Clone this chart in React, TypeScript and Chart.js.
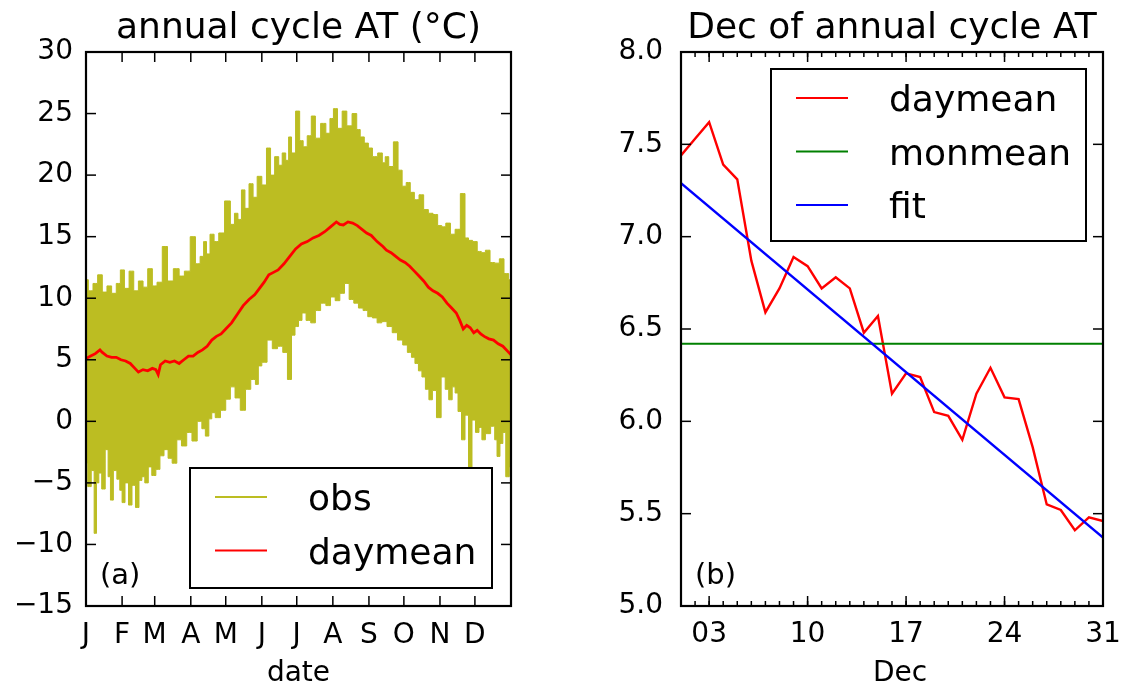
import React, { useEffect, useRef } from 'react';
import { Chart, registerables } from 'chart.js';

Chart.register(...registerables);

const FONT = "'DejaVu Sans', 'Liberation Sans', sans-serif";

// ---------- Panel (a): annual cycle ----------
const monthStartDays = [0, 31, 59, 90, 120, 151, 181, 212, 243, 273, 304, 334];
const monthLabels = ['J', 'F', 'M', 'A', 'M', 'J', 'J', 'A', 'S', 'O', 'N', 'D'];
const tempTicks = [-15, -10, -5, 0, 5, 10, 15, 20, 25, 30];

const obsHighDays = [0, 4, 8, 12, 16, 20, 24, 28, 31, 35, 39, 43, 47, 51, 55, 59, 63, 68, 72, 78, 82, 87, 92, 96, 100, 102, 105, 108, 112, 116, 122, 126, 129, 132, 135, 138, 142, 145, 149, 153, 157, 160, 164, 167, 170, 173, 175, 178, 182, 185, 188, 192, 195, 199, 204, 208, 211, 214, 218, 222, 226, 231, 234, 237, 241, 244, 248, 253, 256, 258, 262, 266, 270, 273, 277, 280, 284, 288, 292, 296, 300, 304, 307, 311, 315, 319, 324, 327, 330, 334, 338, 341, 345, 349, 353, 357, 361, 365];
const obsHigh = [11.5, 10.6, 11.2, 11.9, 10.5, 11.0, 10.4, 11.2, 12.3, 10.8, 12.2, 10.6, 11.4, 10.9, 12.4, 11.0, 11.3, 14.2, 11.4, 12.4, 11.8, 12.2, 15.0, 12.8, 13.4, 14.6, 13.6, 15.2, 14.6, 15.3, 17.9, 16.0, 16.9, 16.4, 18.8, 17.3, 19.3, 18.2, 19.9, 19.2, 22.2, 20.0, 21.5, 20.8, 21.8, 21.2, 23.1, 21.8, 25.2, 22.8, 22.3, 23.2, 24.8, 23.0, 24.2, 23.4, 24.6, 25.4, 23.8, 25.2, 24.0, 25.0, 23.7, 23.1, 22.6, 22.2, 21.5, 21.8, 21.0, 21.5, 20.7, 22.7, 20.4, 19.1, 19.4, 18.6, 18.0, 18.4, 17.2, 16.9, 16.8, 15.9, 15.8, 16.1, 15.2, 15.6, 18.5, 14.9, 14.7, 14.6, 13.8, 13.7, 13.9, 12.9, 12.85, 13.2, 12.0, 11.5];

const obsLowDays = [0, 3, 6, 8, 10, 12, 15, 18, 20, 22, 25, 28, 30, 32, 35, 38, 41, 44, 47, 49, 52, 55, 58, 62, 65, 69, 72, 76, 80, 84, 89, 93, 98, 101, 104, 107, 109, 113, 118, 122, 126, 130, 135, 139, 144, 147, 149, 153, 158, 162, 167, 171, 175, 178, 181, 184, 187, 191, 195, 199, 204, 208, 212, 216, 220, 224, 228, 232, 236, 240, 244, 248, 252, 256, 261, 265, 270, 274, 278, 281, 284, 287, 290, 293, 296, 299, 303, 307, 310, 313, 316, 318, 321, 324, 327, 330, 333, 336, 339, 341, 345, 350, 352, 354, 357, 359, 362, 365];
const obsLow = [-3.4, -5.3, -4.0, -9.1, -5.0, -4.2, -5.5, -2.3, -4.5, -6.4, -4.0, -4.7, -5.6, -6.6, -5.0, -6.8, -5.2, -7.0, -4.8, -4.5, -5.0, -3.7, -4.4, -3.9, -2.8, -2.3, -3.0, -3.4, -1.5, -2.0, -0.9, -1.6, 0.0, -0.6, -1.2, 0.2, 0.7, 0.3, 0.9, 1.8, 2.8, 1.9, 0.9, 2.6, 3.4, 3.0, 4.5, 4.8, 6.6, 5.9, 6.1, 5.6, 3.4, 7.0, 7.7, 8.2, 8.8, 8.2, 8.0, 9.0, 9.6, 9.4, 10.1, 9.8, 10.4, 11.2, 9.9, 9.6, 9.2, 9.0, 8.5, 8.4, 8.0, 8.1, 7.7, 7.2, 6.6, 6.2, 5.6, 5.2, 4.7, 4.1, 3.6, 2.6, 1.75, 2.5, 0.3, 3.6, 2.6, 1.75, 2.8, 2.3, 0.8, -1.5, 0.5, -3.8, 0.1, -0.9, -0.5, -1.5, -1.0, -0.4, -1.5, -2.85, -1.8, -0.9, -4.5, -3.7];

const dayMeanDays = [0, 4, 8, 12, 14, 18, 22, 26, 30, 34, 38, 42, 45, 49, 53, 57, 60, 62, 64, 68, 72, 76, 80, 84, 88, 92, 96, 100, 104, 108, 112, 116, 120, 125, 130, 135, 140, 145, 149, 153, 157, 161, 165, 170, 175, 180, 185, 190, 195, 200, 205, 210, 215, 218, 221, 225, 229, 233, 237, 241, 245, 250, 255, 258, 262, 266, 270, 274, 278, 282, 286, 290, 294, 298, 302, 306, 310, 314, 318, 321, 324, 327, 330, 333, 336, 339, 342, 346, 350, 354, 358, 362, 365];
const dayMean = [5.1, 5.3, 5.5, 5.8, 5.6, 5.3, 5.2, 5.2, 5.0, 4.9, 4.7, 4.3, 4.0, 4.2, 4.1, 4.3, 4.2, 3.8, 4.6, 4.9, 4.8, 4.9, 4.7, 5.0, 5.3, 5.3, 5.6, 5.8, 6.1, 6.6, 6.9, 7.1, 7.5, 8.0, 8.7, 9.4, 9.9, 10.3, 10.8, 11.3, 11.9, 12.1, 12.3, 12.8, 13.4, 14.0, 14.4, 14.6, 14.9, 15.1, 15.4, 15.8, 16.2, 16.0, 15.95, 16.2, 16.1, 15.9, 15.6, 15.3, 15.1, 14.6, 14.2, 13.9, 13.7, 13.4, 13.1, 12.9, 12.6, 12.2, 11.8, 11.4, 10.9, 10.6, 10.4, 10.1, 9.6, 9.2, 8.8, 8.2, 7.5, 7.8, 7.6, 7.2, 7.4, 7.1, 6.9, 6.7, 6.6, 6.3, 6.1, 5.7, 5.4];

// ---------- Panel (b): December ----------
const decDays = [1, 2, 3, 4, 5, 6, 7, 8, 9, 10, 11, 12, 13, 14, 15, 16, 17, 18, 19, 20, 21, 22, 23, 24, 25, 26, 27, 28, 29, 30, 31];
const decDayMean = [7.44, 7.53, 7.62, 7.39, 7.31, 6.87, 6.59, 6.72, 6.89, 6.84, 6.72, 6.78, 6.72, 6.48, 6.57, 6.15, 6.26, 6.24, 6.05, 6.03, 5.90, 6.15, 6.29, 6.13, 6.12, 5.86, 5.55, 5.52, 5.41, 5.48, 5.46];
const monMeanDays = [1, 31];
const monMean = [6.42, 6.42];
const fitDays = [1, 31];
const fitValues = [7.29, 5.37];
const decTickDays = [3, 10, 17, 24, 31];
const decTickLabels = ['03', '10', '17', '24', '31'];
const decValueTicks = [5.0, 5.5, 6.0, 6.5, 7.0, 7.5, 8.0];

const OLIVE = '#bcbd22';
const RED = '#ff0000';
const GREEN = '#008000';
const BLUE = '#0000ff';

const pts = (xs: number[], ys: number[]) => xs.map((x, i) => ({ x, y: ys[i] }));
const fmtMinus = (v: number) => (v < 0 ? '\u2212' + Math.abs(v) : String(v));

type PanelCfg = {
  title: string;
  xLabel: string;
  xLabelShift: number;
  tag: string;
  xMajor: number[];
  xMinor: number[];
  yTicks: number[];
  legend: { left: number; top: number; right: number; bottom: number; items: { label: string; color: string }[] };
};

function framePlugin(cfg: PanelCfg) {
  return {
    id: 'frameDecor',
    afterDraw(chart: any) {
      const { ctx, chartArea: a, scales } = chart;
      const xs = scales.x;
      const ys = scales.y;
      ctx.save();
      ctx.strokeStyle = '#000';
      ctx.lineCap = 'butt';
      const seg = (x1: number, y1: number, x2: number, y2: number) => {
        ctx.beginPath();
        ctx.moveTo(x1, y1);
        ctx.lineTo(x2, y2);
        ctx.stroke();
      };
      ctx.lineWidth = 1.5;
      cfg.yTicks.forEach((v) => {
        const y = ys.getPixelForValue(v);
        seg(a.left, y, a.left + 10, y);
        seg(a.right, y, a.right - 10, y);
      });
      cfg.xMajor.forEach((v) => {
        const x = xs.getPixelForValue(v);
        seg(x, a.bottom, x, a.bottom - 10);
        seg(x, a.top, x, a.top + 10);
      });
      cfg.xMinor.forEach((v) => {
        const x = xs.getPixelForValue(v);
        seg(x, a.bottom, x, a.bottom - 5);
        seg(x, a.top, x, a.top + 5);
      });
      ctx.lineWidth = 2.2;
      ctx.strokeRect(a.left, a.top, a.right - a.left, a.bottom - a.top);

      // title
      ctx.fillStyle = '#000';
      ctx.textBaseline = 'alphabetic';
      ctx.textAlign = 'center';
      ctx.font = `36px ${FONT}`;
      ctx.fillText(cfg.title, (a.left + a.right) / 2, 38);
      // x label
      ctx.font = `28px ${FONT}`;
      ctx.fillText(cfg.xLabel, (a.left + a.right) / 2 + cfg.xLabelShift, 681);
      // panel tag
      ctx.textAlign = 'left';
      ctx.font = `29px ${FONT}`;
      ctx.fillText(cfg.tag, a.left + 14, a.bottom - 22);

      // legend
      const L = cfg.legend;
      const bx = a.left + L.left;
      const by = a.top + L.top;
      const bw = a.right - L.right - bx;
      const bh = a.top + L.bottom - by;
      ctx.fillStyle = '#fff';
      ctx.fillRect(bx, by, bw, bh);
      ctx.lineWidth = 2;
      ctx.strokeStyle = '#000';
      ctx.strokeRect(bx, by, bw, bh);
      ctx.font = `36px ${FONT}`;
      L.items.forEach((it, i) => {
        const ly = by + 29 + i * 53.5;
        ctx.strokeStyle = it.color;
        ctx.lineWidth = 2.2;
        seg(bx + 25, ly, bx + 77, ly);
        ctx.fillStyle = '#000';
        ctx.fillText(it.label, bx + 118, ly + 13);
      });
      ctx.restore();
    },
  };
}

const noOverhang = (s: any) => {
  s.height = 81;
  s.paddingLeft = 0;
  s.paddingRight = 0;
};

function PanelA() {
  const ref = useRef<HTMLCanvasElement>(null);
  useEffect(() => {
    const cfg: PanelCfg = {
      title: 'annual cycle AT (\u00B0C)',
      xLabel: 'date',
      xLabelShift: 0,
      tag: '(a)',
      xMajor: monthStartDays,
      xMinor: [],
      yTicks: tempTicks,
      legend: {
        left: 104,
        top: 416,
        right: 19,
        bottom: 536,
        items: [
          { label: 'obs', color: OLIVE },
          { label: 'daymean', color: RED },
        ],
      },
    };
    const chart = new Chart(ref.current!, {
      type: 'line',
      data: {
        datasets: [
          {
            label: 'obs',
            data: pts(obsHighDays, obsHigh),
            borderColor: OLIVE,
            backgroundColor: OLIVE,
            borderWidth: 1,
            pointRadius: 0,
            stepped: 'middle',
            fill: 1,
            order: 2,
          },
          {
            label: 'obs-low',
            data: pts(obsLowDays, obsLow),
            borderColor: OLIVE,
            backgroundColor: OLIVE,
            borderWidth: 1,
            pointRadius: 0,
            stepped: 'middle',
            fill: false,
            order: 3,
          },
          {
            label: 'daymean',
            data: pts(dayMeanDays, dayMean),
            borderColor: RED,
            borderWidth: 2.8,
            pointRadius: 0,
            fill: false,
            order: 0,
          },
        ],
      },
      options: {
        responsive: false,
        animation: false,
        devicePixelRatio: 1,
        events: [],
        layout: { padding: { top: 52, right: 50, left: 0, bottom: 0 } },
        plugins: { legend: { display: false }, tooltip: { enabled: false }, title: { display: false } },
        scales: {
          x: {
            type: 'linear',
            min: 0,
            max: 365,
            afterBuildTicks: (s: any) => {
              s.ticks = monthStartDays.map((v) => ({ value: v }));
            },
            afterFit: noOverhang,
            grid: { display: false, drawTicks: false },
            border: { display: false },
            ticks: {
              autoSkip: false,
              maxRotation: 0,
              padding: 13,
              color: '#000',
              font: { family: FONT, size: 28 },
              callback: (_v: any, i: number) => monthLabels[i],
            },
          },
          y: {
            type: 'linear',
            min: -15,
            max: 30,
            afterBuildTicks: (s: any) => {
              s.ticks = tempTicks.map((v) => ({ value: v }));
            },
            afterFit: (s: any) => {
              s.width = 86;
            },
            grid: { display: false, drawTicks: false },
            border: { display: false },
            ticks: {
              autoSkip: false,
              padding: 13,
              color: '#000',
              font: { family: FONT, size: 28 },
              callback: (v: any) => fmtMinus(Number(v)),
            },
          },
        },
      },
      plugins: [framePlugin(cfg)],
    } as any);
    return () => chart.destroy();
  }, []);
  return (
    <canvas
      ref={ref}
      width={561}
      height={687}
      style={{ position: 'absolute', left: 0, top: 0, width: 561, height: 687 }}
    />
  );
}

function PanelB() {
  const ref = useRef<HTMLCanvasElement>(null);
  useEffect(() => {
    const cfg: PanelCfg = {
      title: 'Dec of annual cycle AT',
      xLabel: 'Dec',
      xLabelShift: 8,
      tag: '(b)',
      xMajor: decTickDays,
      xMinor: decDays,
      yTicks: decValueTicks,
      legend: {
        left: 90,
        top: 17,
        right: 17,
        bottom: 189,
        items: [
          { label: 'daymean', color: RED },
          { label: 'monmean', color: GREEN },
          { label: 'fit', color: BLUE },
        ],
      },
    };
    const chart = new Chart(ref.current!, {
      type: 'line',
      data: {
        datasets: [
          {
            label: 'daymean',
            data: pts(decDays, decDayMean),
            borderColor: RED,
            borderWidth: 2.4,
            pointRadius: 0,
            fill: false,
            order: 2,
          },
          {
            label: 'monmean',
            data: pts(monMeanDays, monMean),
            borderColor: GREEN,
            borderWidth: 2,
            pointRadius: 0,
            fill: false,
            order: 1,
          },
          {
            label: 'fit',
            data: pts(fitDays, fitValues),
            borderColor: BLUE,
            borderWidth: 2.4,
            pointRadius: 0,
            fill: false,
            order: 0,
          },
        ],
      },
      options: {
        responsive: false,
        animation: false,
        devicePixelRatio: 1,
        events: [],
        layout: { padding: { top: 52, right: 19, left: 0, bottom: 0 } },
        plugins: { legend: { display: false }, tooltip: { enabled: false }, title: { display: false } },
        scales: {
          x: {
            type: 'linear',
            min: 1,
            max: 31,
            afterBuildTicks: (s: any) => {
              s.ticks = decTickDays.map((v) => ({ value: v }));
            },
            afterFit: noOverhang,
            grid: { display: false, drawTicks: false },
            border: { display: false },
            ticks: {
              autoSkip: false,
              maxRotation: 0,
              padding: 12,
              color: '#000',
              font: { family: FONT, size: 28 },
              callback: (_v: any, i: number) => decTickLabels[i],
            },
          },
          y: {
            type: 'linear',
            min: 5,
            max: 8,
            afterBuildTicks: (s: any) => {
              s.ticks = decValueTicks.map((v) => ({ value: v }));
            },
            afterFit: (s: any) => {
              s.width = 120;
            },
            grid: { display: false, drawTicks: false },
            border: { display: false },
            ticks: {
              autoSkip: false,
              padding: 18,
              color: '#000',
              font: { family: FONT, size: 28 },
              callback: (v: any) => Number(v).toFixed(1),
            },
          },
        },
      },
      plugins: [framePlugin(cfg)],
    } as any);
    return () => chart.destroy();
  }, []);
  return (
    <canvas
      ref={ref}
      width={561}
      height={687}
      style={{ position: 'absolute', left: 561, top: 0, width: 561, height: 687 }}
    />
  );
}

export default function App() {
  return (
    <div style={{ position: 'absolute', left: 0, top: 0, width: 1122, height: 687, background: '#fff', overflow: 'hidden' }}>
      <PanelA />
      <PanelB />
    </div>
  );
}
